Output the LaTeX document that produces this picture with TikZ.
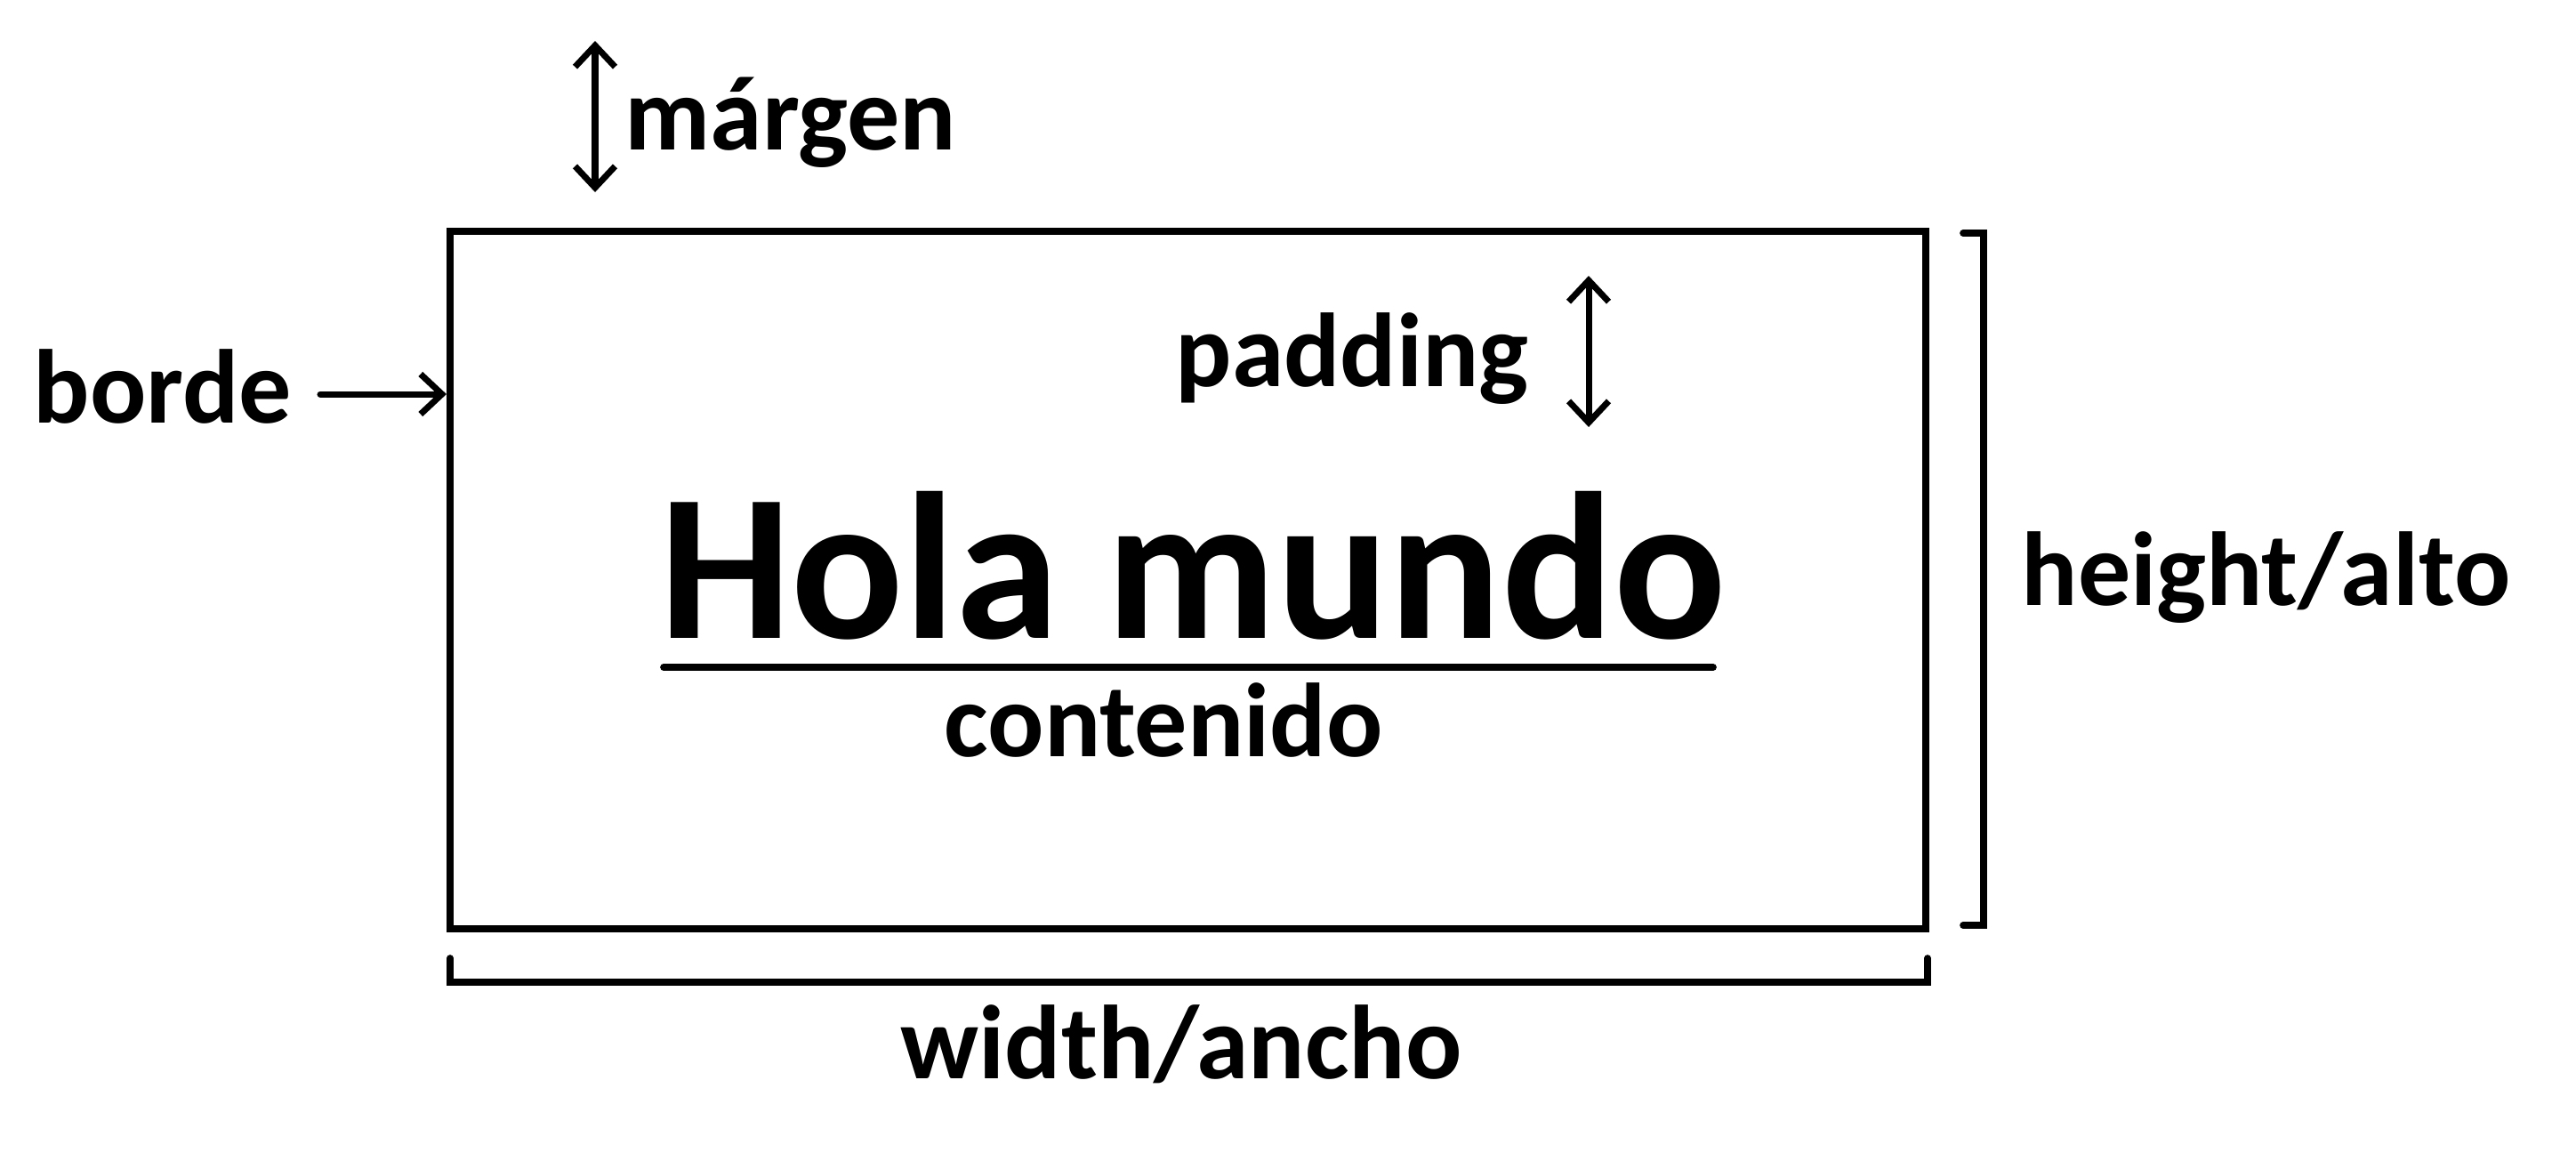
\documentclass[tikz,border=0pt]{standalone}
\usepackage{fontspec}
\setmainfont{Carlito}
\usetikzlibrary{arrows.meta,positioning,calc}

\begin{document}
\begin{tikzpicture}[
  etiqueta/.style={font=\fontsize{33.6}{40}\selectfont\bfseries, inner sep=0pt},
  titulo/.style={font=\fontsize{67}{80}\selectfont\bfseries, inner sep=0pt, text depth=0pt},
  caja/.style={draw, line width=2.3pt, minimum width=16.59cm, minimum height=7.84cm, inner sep=0pt},
  punta/.style={Straight Barb[length=2.4mm,width=4.5mm,line width=2pt]},
  flecha/.style={line width=2pt, line cap=round, {Straight Barb[length=2.4mm,width=4.5mm,line width=2pt]}-{Straight Barb[length=2.4mm,width=4.5mm,line width=2pt]}},
  flechauna/.style={line width=2pt, line cap=round, -{Straight Barb[length=2.4mm,width=4.5mm,line width=2pt]}},
  corchete/.style={line width=2.2pt, line cap=round}
]
\useasboundingbox (0,0) rectangle (28.96,-13.04);

% la caja
\node[caja] (caja) at (13.355,-6.52) {};

% textos
\node[etiqueta, anchor=base west] (margen) at (7.02,-1.68) {márgen};
\node[etiqueta, anchor=base west] (borde) at (0.37,-4.75) {borde};
\node[etiqueta, anchor=base west] (padding) at (13.21,-4.34) {padding};
\node[titulo, anchor=base] (hola) at (13.41,-7.17) {Hola mundo};
\node[etiqueta, anchor=base] (contenido) at (13.08,-8.50) {contenido};
\node[etiqueta, anchor=base west] (alto) at (22.72,-6.80) {height/alto};
\node[etiqueta, anchor=base west] (ancho) at (10.12,-12.12) {width/ancho};

% flechas
\coordinate (margen-a) at (6.69,-0.46);
\coordinate (margen-b) at (6.69,-2.16);
\draw[flecha] (margen-a) -- (margen-b);

\coordinate (padding-a) at (17.86,-3.10);
\coordinate (padding-b) at (17.86,-4.80);
\draw[flecha] (padding-a) -- (padding-b);

\coordinate (borde-a) at (3.60,-4.43);
\draw[flechauna] (borde-a) -- (caja.west |- borde-a);

% subrayado
\coordinate (linea-a) at (7.46,-7.50);
\coordinate (linea-b) at (19.26,-7.50);
\draw[line width=2.2pt, line cap=round] (linea-a) -- (linea-b);

% corchetes
\draw[corchete] (22.07,-2.62) -- (22.30,-2.62) -- (22.30,-10.40) -- (22.07,-10.40);
\draw[corchete] (5.06,-10.77) -- (5.06,-11.04) -- (21.67,-11.04) -- (21.67,-10.77);

\end{tikzpicture}
\end{document}
